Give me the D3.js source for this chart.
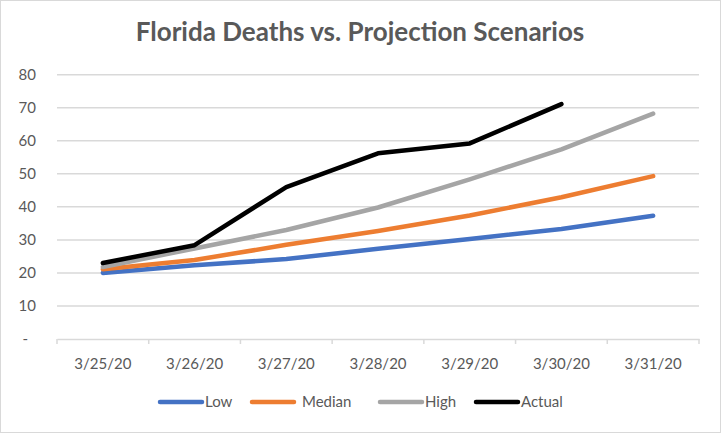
<!DOCTYPE html>
<html><head><meta charset="utf-8">
<script src="https://cdn.jsdelivr.net/npm/d3@7"></script>
<style>body{margin:0;background:#fff}svg{display:block}</style>
</head><body>
<script>
const categories = ["3/25/20","3/26/20","3/27/20","3/28/20","3/29/20","3/30/20","3/31/20"];
const low    = [20.0, 22.3, 24.2, 27.3, 30.3, 33.3, 37.3];
const median = [21.1, 23.9, 28.5, 32.7, 37.4, 42.9, 49.3];
const high   = [21.8, 27.4, 33.0, 39.8, 48.3, 57.4, 68.2];
const actual = [23.0, 28.4, 46.0, 56.2, 59.2, 71.1, null];
const yTicks = [0,10,20,30,40,50,60,70,80];
const seriesNames = ["Low","Median","High","Actual"];
const seriesColors = ["#4472c4","#ed7d31","#a5a5a5","#000000"];
const seriesData = [low, median, high, actual];

const W = 722, H = 434;
const svg = d3.select("body").append("svg").attr("width", W).attr("height", H);
const font = "Lato, 'Open Sans', sans-serif";

svg.append("rect").attr("x",0.5).attr("y",0.5).attr("width",720).attr("height",432)
  .attr("fill","#fff").attr("stroke","#d9d9d9");

svg.append("text").attr("x",360).attr("y",41).attr("text-anchor","middle")
  .attr("font-family",font).attr("font-weight","bold").attr("font-size",26)
  .attr("fill","#595959").text("Florida Deaths vs. Projection Scenarios");

const x = d3.scaleBand().domain(categories).range([57,699]);
const y = d3.scaleLinear().domain([0,80]).range([339,74.7]);

// gridlines
svg.append("g").selectAll("line").data(yTicks.filter(d=>d>0)).join("line")
  .attr("x1",57).attr("x2",699).attr("y1",d=>y(d)).attr("y2",d=>y(d))
  .attr("stroke","#d9d9d9").attr("stroke-width",1.5);

// y labels
svg.append("g").selectAll("text").data(yTicks).join("text")
  .attr("x",d=>d===0?28:36).attr("y",d=>y(d)).attr("dy","0.36em")
  .attr("text-anchor","end").attr("font-family",font).attr("font-size",15)
  .attr("fill","#595959").text(d=>d===0?"-":d);

// x axis
const xAxis = svg.append("g").attr("transform","translate(0,339)")
  .call(d3.axisBottom(x).tickSize(0).tickPadding(0));
xAxis.select(".domain").attr("stroke","#d9d9d9").attr("stroke-width",1.5);
xAxis.selectAll(".tick text").attr("y",30).attr("dy",0).attr("font-family",font).attr("font-size",15).attr("fill","#595959");
const bounds = categories.map(c=>x(c)).concat([x(categories[categories.length-1])+x.bandwidth()]);
svg.append("g").selectAll("line").data(bounds).join("line")
  .attr("x1",d=>d).attr("x2",d=>d).attr("y1",339).attr("y2",344)
  .attr("stroke","#d9d9d9").attr("stroke-width",1.5);

// lines
const line = d3.line()
  .defined(d=>d.v!=null)
  .x(d=>x(d.c)+x.bandwidth()/2).y(d=>y(d.v));
seriesData.forEach((arr,i)=>{
  svg.append("path").datum(arr.map((v,j)=>({c:categories[j],v})))
    .attr("d",line).attr("fill","none").attr("stroke",seriesColors[i])
    .attr("stroke-width",4.5).attr("stroke-linecap","round").attr("stroke-linejoin","round");
});

// legend
const legX = [160,252,380,476];
const leg = svg.append("g");
seriesNames.forEach((n,i)=>{
  leg.append("line").attr("x1",legX[i]).attr("x2",legX[i]+42).attr("y1",402).attr("y2",402)
    .attr("stroke",seriesColors[i]).attr("stroke-width",4.5).attr("stroke-linecap","round");
  leg.append("text").attr("x",legX[i]+(i===1?50:45)).attr("y",402).attr("dy","0.36em")
    .attr("font-family",font).attr("font-size",15).attr("fill","#595959").text(n);
});
</script>
</body></html>
